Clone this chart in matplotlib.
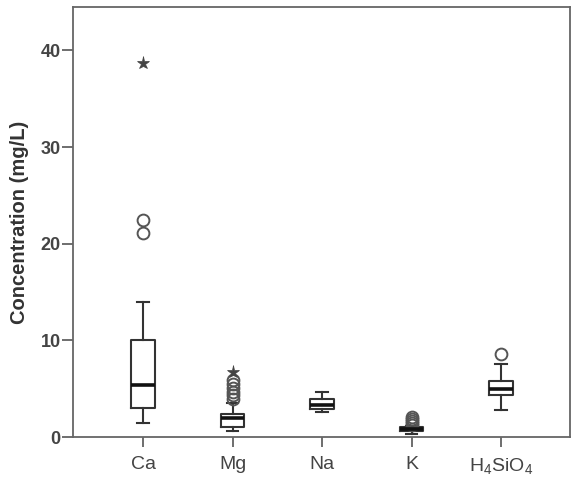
import matplotlib
matplotlib.use("Agg")
import matplotlib.pyplot as plt

plt.rcParams['font.family'] = ['Liberation Sans', 'DejaVu Sans']
plt.rcParams['mathtext.fontset'] = 'custom'
plt.rcParams['mathtext.rm'] = 'Liberation Sans'
plt.rcParams['mathtext.it'] = 'Liberation Sans'
plt.rcParams['mathtext.bf'] = 'Liberation Sans:bold'

categories = ['Ca', 'Mg', 'Na', 'K', r'H$_4$SiO$_4$']
whislo = [1.5, 0.65, 2.6, 0.35, 2.8]
q1 = [3.0, 1.0, 2.9, 0.6, 4.3]
med = [5.4, 2.0, 3.35, 0.85, 5.0]
q3 = [10.0, 2.4, 3.9, 1.0, 5.75]
whishi = [14.0, 3.5, 4.7, 1.1, 7.6]
outliers = [[21.1, 22.5], [3.9, 4.3, 4.7, 5.1, 5.5, 5.9], [], [1.25, 1.45, 1.65, 1.85, 2.05], [8.6]]
extremes = [[38.7], [6.7], [], [], []]

line_col = '#333333'
fig = plt.figure(figsize=(5.78, 4.78), dpi=100)
ax = fig.add_axes([73/578, 41/478, 497/578, 430/478])

positions = list(range(1, len(categories) + 1))
stats = []
for i in range(len(categories)):
    stats.append(dict(whislo=whislo[i], q1=q1[i], med=med[i], q3=q3[i],
                      whishi=whishi[i], fliers=outliers[i], label=categories[i]))

ax.bxp(stats, positions=positions, widths=0.26, showfliers=True,
       boxprops=dict(color=line_col, linewidth=1.5),
       whiskerprops=dict(color=line_col, linewidth=1.5),
       capprops=dict(color=line_col, linewidth=1.5),
       medianprops=dict(color='#111111', linewidth=2.6),
       flierprops=dict(marker='o', markersize=8.5, markerfacecolor='none',
                       markeredgecolor='#555555', markeredgewidth=1.4))

for p, ext in zip(positions, extremes):
    if ext:
        ax.plot([p] * len(ext), ext, linestyle='none', marker='*', markersize=9.5,
                markerfacecolor='#444444', markeredgecolor='#444444', markeredgewidth=0.5)

ax.set_xlim(0.218, 5.77)
ax.set_ylim(0, 44.5)
ax.set_yticks([0, 10, 20, 30, 40])
ax.set_yticklabels(['0', '10', '20', '30', '40'], fontweight='bold', color='#444444', fontsize=13)
ax.set_xticks(positions)
ax.set_xticklabels(categories, color='#444444', fontsize=14)
ax.set_ylabel('Concentration (mg/L)', fontweight='bold', fontsize=14.5, color='#333333', labelpad=8)

for s in ax.spines.values():
    s.set_color('#666666')
    s.set_linewidth(1.3)
ax.tick_params(axis='y', direction='out', length=8, width=1.2, color='#555555', pad=1)
ax.tick_params(axis='x', direction='out', length=7.5, width=1.2, color='#555555', pad=6)

fig.savefig('out.png', dpi=100)
